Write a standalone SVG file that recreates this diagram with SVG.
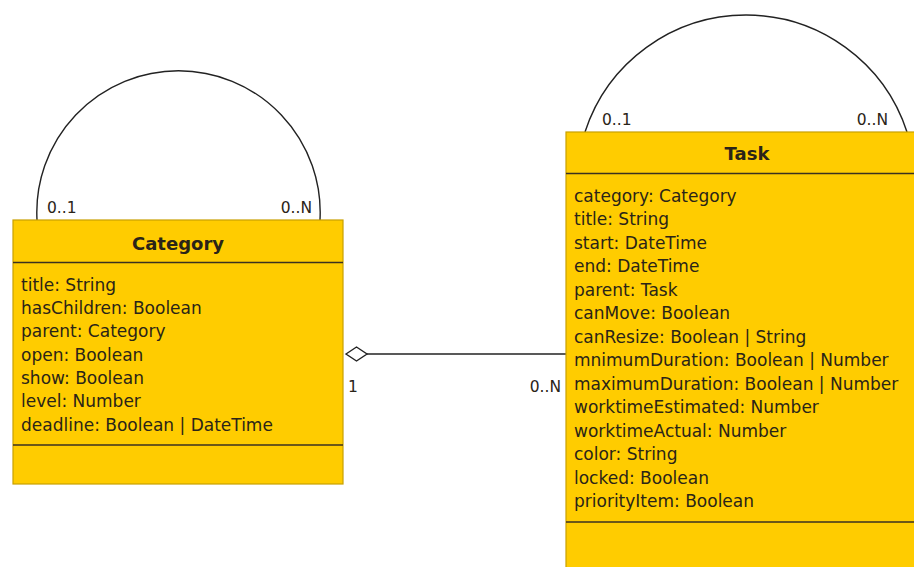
<svg xmlns="http://www.w3.org/2000/svg" width="914" height="567" viewBox="0 0 914 567">
<style>
.box{fill:#FFCC00;stroke:#C9A000;stroke-width:1.2}
.div{stroke:#3a3020;stroke-width:1.6}
.t{font-family:"DejaVu Sans",sans-serif;font-size:17px;fill:#2a2418}
.h{font-family:"DejaVu Sans",sans-serif;font-size:18px;font-weight:bold;fill:#2a2418}
.m{font-family:"DejaVu Sans",sans-serif;font-size:15.5px;fill:#2a2418}
.c{fill:none;stroke:#222;stroke-width:1.4}
</style>
<rect width="914" height="567" fill="#fff"/>
<g id="connectors">
<path class="c" d="M37,220 A141.7,141.7 0 1 1 320,220"/>
<path class="c" d="M585,132 A169.3,169.3 0 0 1 907,132"/>
<line class="c" x1="367" y1="354" x2="566" y2="354"/>
<polygon points="346,354 356.5,347 367,354 356.5,361" fill="#fff" stroke="#222" stroke-width="1.4"/>
<text class="m" x="47" y="213">0..1</text>
<text class="m" x="312" y="213" text-anchor="end">0..N</text>
<text class="m" x="602" y="125">0..1</text>
<text class="m" x="888" y="125" text-anchor="end">0..N</text>
<text class="m" x="348" y="392">1</text>
<text class="m" x="561" y="392" text-anchor="end">0..N</text>
</g>
<g id="category">
<rect class="box" x="13" y="220" width="330" height="264"/>
<line class="div" x1="13" y1="262.5" x2="343" y2="262.5"/>
<line class="div" x1="13" y1="445" x2="343" y2="445"/>
<text class="h" x="178" y="250" text-anchor="middle">Category</text>
<text class="t" x="21" y="290.7">title: String</text>
<text class="t" x="21" y="314">hasChildren: Boolean</text>
<text class="t" x="21" y="337.3">parent: Category</text>
<text class="t" x="21" y="360.7">open: Boolean</text>
<text class="t" x="21" y="384">show: Boolean</text>
<text class="t" x="21" y="407.3">level: Number</text>
<text class="t" x="21" y="430.7">deadline: Boolean | DateTime</text>
</g>
<g id="task">
<rect class="box" x="566" y="132" width="362" height="450"/>
<line class="div" x1="566" y1="173.5" x2="914" y2="173.5"/>
<line class="div" x1="566" y1="522" x2="914" y2="522"/>
<text class="h" x="747" y="160" text-anchor="middle">Task</text>
<text class="t" x="574" y="201.7">category: Category</text>
<text class="t" x="574" y="225.2">title: String</text>
<text class="t" x="574" y="248.7">start: DateTime</text>
<text class="t" x="574" y="272.3">end: DateTime</text>
<text class="t" x="574" y="295.8">parent: Task</text>
<text class="t" x="574" y="319.3">canMove: Boolean</text>
<text class="t" x="574" y="342.8">canResize: Boolean | String</text>
<text class="t" x="574" y="366.3">mnimumDuration: Boolean | Number</text>
<text class="t" x="574" y="389.8">maximumDuration: Boolean | Number</text>
<text class="t" x="574" y="413.3">worktimeEstimated: Number</text>
<text class="t" x="574" y="436.9">worktimeActual: Number</text>
<text class="t" x="574" y="460.4">color: String</text>
<text class="t" x="574" y="483.9">locked: Boolean</text>
<text class="t" x="574" y="507.4">priorityItem: Boolean</text>
</g>
</svg>
